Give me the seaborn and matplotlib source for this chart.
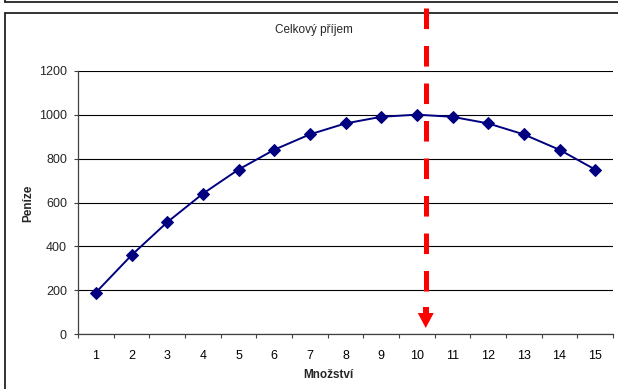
import matplotlib
matplotlib.use("Agg")
import matplotlib.pyplot as plt
import matplotlib.transforms as mtransforms
from matplotlib.lines import Line2D
from matplotlib.patches import Polygon
import seaborn as sns
import pandas as pd

# Total revenue by quantity
quantity = [1, 2, 3, 4, 5, 6, 7, 8, 9, 10, 11, 12, 13, 14, 15]
revenue = [190, 360, 510, 640, 750, 840, 910, 960, 990, 1000, 990, 960, 910, 840, 750]
y_ticks = [0, 200, 400, 600, 800, 1000, 1200]
marker_q = 10.25  # where the red arrow points on the quantity axis

title = "Celkový příjem"
x_label = "Množství"
y_label = "Peníze"

sns.set_style("white")
plt.rcParams["font.family"] = ["Liberation Sans", "DejaVu Sans"]
plt.rcParams["lines.scale_dashes"] = False

W, H = 618, 389
fig = plt.figure(figsize=(W / 100, H / 100), dpi=100)
fig.patch.set_facecolor("white")

def fx(px):
    return px / W

def fy(py):
    return 1 - py / H

ax = fig.add_axes([fx(78), fy(334.3), fx(613) - fx(78), fy(70.7) - fy(334.3)])

df = pd.DataFrame({"Q": quantity, "TR": revenue})
sns.lineplot(data=df, x="Q", y="TR", ax=ax, color="#000080", linewidth=1.4,
             marker="D", markersize=6.5, markeredgecolor="#000080",
             markerfacecolor="#000080", zorder=5)

ax.set_xlim(0.5, 15.5)
ax.set_ylim(0, 1200)
ax.set_xticks(quantity)
ax.set_xticks([q - 0.5 for q in quantity] + [15.5], minor=True)
ax.set_yticks(y_ticks)
ax.set_xlabel("")
ax.set_ylabel("")

ax.yaxis.grid(True, color="#000000", linewidth=0.8)
ax.xaxis.grid(False)
ax.set_axisbelow(True)

for s in ["top", "right"]:
    ax.spines[s].set_visible(False)
for s in ["left", "bottom"]:
    ax.spines[s].set_visible(True)
    ax.spines[s].set_color("#404040")
    ax.spines[s].set_linewidth(0.9)

ax.tick_params(axis="x", which="major", length=0, pad=11, labelsize=9, colors="#000000")
ax.tick_params(axis="x", which="minor", length=3, width=0.8, color="#404040", direction="out", bottom=True)
ax.tick_params(axis="y", which="major", length=3, width=0.8, color="#404040", direction="out",
               pad=5, labelsize=9, left=True)

# Chart frame
frame = dict(transform=fig.transFigure, color="#222222", lw=1.3)
fig.add_artist(Line2D([fx(5), fx(5)], [fy(0), fy(2)], **frame))
fig.add_artist(Line2D([fx(5), 1], [fy(1.5), fy(1.5)], **frame))
fig.add_artist(Line2D([fx(5), fx(5)], [fy(12.7), 0], **frame))
fig.add_artist(Line2D([fx(5), 1], [fy(12.7), fy(12.7)], **frame))

# Texts
fig.text(fx(314), fy(30), title, ha="center", va="center", fontsize=8.5)
fig.text(fx(328), fy(375), x_label, ha="center", va="center", fontsize=8.5, fontweight="bold")
fig.text(fx(28), fy(203), y_label, ha="center", va="center", fontsize=8.5, fontweight="bold", rotation=90)

# Red dashed arrow marking the revenue maximum
blend = mtransforms.blended_transform_factory(ax.transData, fig.transFigure)
fig.add_artist(Line2D([marker_q, marker_q], [fy(8), fy(296)], transform=blend,
                      color="#ff0000", lw=3.6, dashes=(14.8, 12.2), solid_capstyle="butt",
                      dash_capstyle="butt", clip_on=False, zorder=10))
data_per_px = 15 / (ax.get_position().width * W)
head_w = 8 * data_per_px
fig.add_artist(Polygon([[marker_q - head_w, fy(313)], [marker_q + head_w, fy(313)], [marker_q, fy(328)]],
                       closed=True, transform=blend, facecolor="#ff0000", edgecolor="none",
                       clip_on=False, zorder=10))
fig.add_artist(Line2D([marker_q, marker_q], [fy(307), fy(315)], transform=blend, color="#ff0000",
                      lw=4.3, solid_capstyle="butt", clip_on=False, zorder=10))

fig.savefig("out.png", dpi=100, facecolor="white")
